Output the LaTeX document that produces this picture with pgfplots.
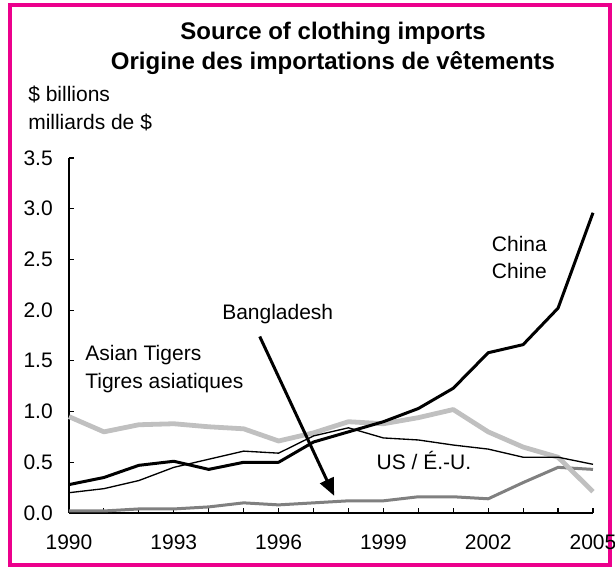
\documentclass[border=0pt]{standalone}
\usepackage{fontspec}
\setmainfont{Liberation Sans}
\usepackage{pgfplots}
\usepackage{pgfplotstable}
\pgfplotsset{compat=1.18}
\usetikzlibrary{arrows.meta}
\definecolor{framepink}{RGB}{236,0,140}
\definecolor{tigergray}{RGB}{192,192,192}
\definecolor{bangray}{RGB}{128,128,128}

% year, china, us, tigers, bangladesh ($ billions)
\pgfplotstableread{
year china us tigers bangla
1990 0.28 0.20 0.95 0.02
1991 0.35 0.24 0.80 0.02
1992 0.47 0.32 0.87 0.04
1993 0.51 0.45 0.88 0.04
1994 0.43 0.53 0.85 0.06
1995 0.50 0.61 0.83 0.10
1996 0.50 0.59 0.71 0.08
1997 0.70 0.76 0.79 0.10
1998 0.80 0.84 0.90 0.12
1999 0.90 0.74 0.88 0.12
2000 1.03 0.72 0.94 0.16
2001 1.23 0.67 1.02 0.16
2002 1.58 0.63 0.80 0.14
2003 1.66 0.55 0.65 0.30
2004 2.02 0.55 0.55 0.45
2005 2.96 0.48 0.21 0.43
}\imports

\begin{document}
\begin{tikzpicture}[font=\fontsize{15.75pt}{19pt}\selectfont]
\useasboundingbox (-51.75pt,-41.25pt) rectangle (409.5pt,384.75pt);
\draw[framepink, line width=3pt] (-44.25pt,-39pt) rectangle (405.75pt,381pt);
\begin{axis}[
    scale only axis,
    width=393pt, height=266.25pt,
    xmin=1990, xmax=2005, ymin=0, ymax=3.5,
    axis lines=left,
    axis line style={-, black, line width=0.9pt},
    xtick={1990,1993,...,2005},
    minor xtick={1990,...,2005},
    ytick={0,0.5,...,3.5},
    tick align=inside,
    major tick length=3.75pt, minor tick length=3.75pt,
    tick style={black, line width=0.8pt},
    xticklabel style={inner sep=0pt, yshift=-16.5pt, /pgf/number format/1000 sep={}},
    yticklabel style={inner sep=0pt, xshift=-12pt, /pgf/number format/.cd, fixed, fixed zerofill, precision=1},
    /pgf/number format/assume math mode=true,
    clip=false,
]
\addplot[bangray, line width=2.25pt, line join=round] table[x=year, y=bangla] {\imports};
\addplot[tigergray, line width=3.6pt, line join=round] table[x=year, y=tigers] {\imports};
\addplot[black, line width=1pt, line join=round] table[x=year, y=us] {\imports};
\addplot[black, line width=2.25pt, line join=round] table[x=year, y=china] {\imports};

\draw[black, line width=2.25pt, -{Triangle[width=11pt,length=13pt]}] (axis cs:1995.46,1.74) -- (axis cs:1997.59,0.17);

\node[anchor=base west, inner sep=0pt] at (axis cs:2002.1,2.58) {China};
\node[anchor=base west, inner sep=0pt] at (axis cs:2002.1,2.31) {Chine};
\node[anchor=base west, inner sep=0pt] at (axis cs:1994.38,1.91) {Bangladesh};
\node[anchor=base west, inner sep=0pt] at (axis cs:1990.46,1.50) {Asian Tigers};
\node[anchor=base west, inner sep=0pt] at (axis cs:1990.46,1.23) {Tigres asiatiques};
\node[anchor=base west, inner sep=0pt] at (axis cs:1998.8,0.43) {US / É.-U.};
\end{axis}
\node[anchor=base west, inner sep=0pt] at (-30.75pt,308.25pt) {\$ billions};
\node[anchor=base west, inner sep=0pt] at (-30.75pt,287.25pt) {milliards de \$};
\node[anchor=base, inner sep=0pt, font=\fontsize{18pt}{21pt}\selectfont\bfseries] at (198pt,354.75pt) {Source of clothing imports};
\node[anchor=base, inner sep=0pt, font=\fontsize{18pt}{21pt}\selectfont\bfseries] at (198pt,332.25pt) {Origine des importations de vêtements};
\end{tikzpicture}
\end{document}
